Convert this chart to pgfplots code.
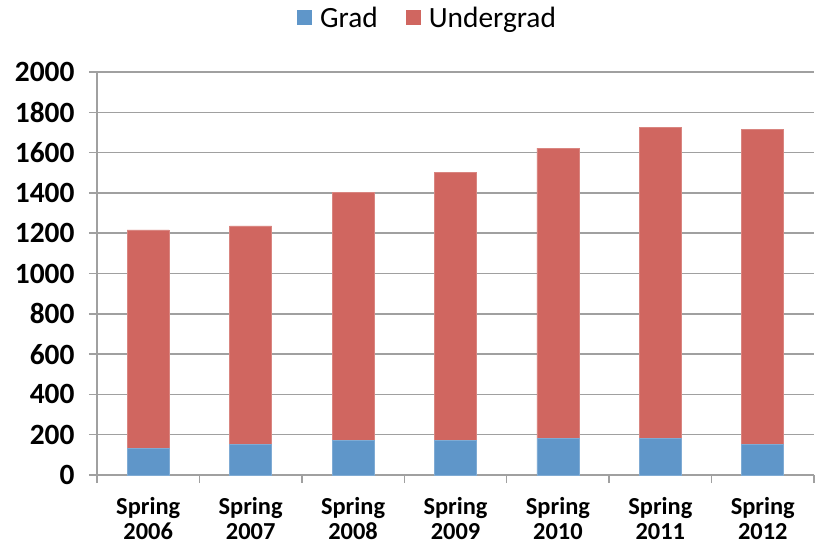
\documentclass[border=0pt]{standalone}
\usepackage{pgfplots}
\pgfplotsset{compat=1.18}
\usepackage{fontspec}
\setmainfont{Carlito}
\definecolor{gradblue}{RGB}{95,150,201}
\definecolor{ugred}{RGB}{208,102,96}
\definecolor{gridgray}{RGB}{160,160,160}
\begin{document}
\begin{tikzpicture}[x=1bp,y=1bp]
\begin{axis}[
  at={(0,0)}, anchor=south west,
  scale only axis,
  width=717bp, height=403bp,
  ybar stacked,
  bar width=42bp,
  xmin=-0.5, xmax=6.5,
  ymin=0, ymax=2000,
  ytick={0,200,...,2000},
  xtick={0,1,2,3,4,5,6},
  xticklabels={{Spring\\2006},{Spring\\2007},{Spring\\2008},{Spring\\2009},{Spring\\2010},{Spring\\2011},{Spring\\2012}},
  x tick label style={align=center, font=\bfseries\fontsize{24.5}{25}\selectfont, yshift=-11bp},
  y tick label style={font=\bfseries\fontsize{29.5}{30}\selectfont, xshift=-11bp},
  /pgf/number format/assume math mode=true,
  /pgf/number format/1000 sep={},
  major x tick style={draw=none},
  minor xtick={-0.5,0.5,...,6.5},
  minor x tick style={draw=gridgray, line width=1.5bp},
  minor tick length=8bp,
  major tick length=8bp,
  tick align=outside,
  y tick style={draw=gridgray, line width=1.5bp},
  ymajorgrids,
  grid style={draw=gridgray, line width=1.5bp},
  axis x line*=bottom,
  axis y line*=left,
  axis line style={draw=gridgray, line width=1.5bp},
  legend style={at={(rel axis cs:0.461,1.134)}, anchor=center, draw=none, fill=none,
    legend columns=2, font=\fontsize{29.5}{30}\selectfont,
    /tikz/every even column/.append style={column sep=26bp}},
  legend image code/.code={\fill[#1, draw=none] (0bp,-7.5bp) rectangle (15bp,7.5bp); \path[draw=none, fill=none] (15bp,0bp) -- (21bp,0bp);},
]
\addplot+[fill=gradblue, draw=gradblue!80!white, line width=0.8bp] coordinates {(0,130) (1,150) (2,170) (3,170) (4,180) (5,180) (6,150)};
\addlegendentry{Grad}
\addplot+[fill=ugred, draw=ugred!80!white, line width=0.8bp] coordinates {(0,1086) (1,1086) (2,1230) (3,1330) (4,1442) (5,1547) (6,1567)};
\addlegendentry{Undergrad}
\end{axis}
\pgfresetboundingbox
\path[use as bounding box] (-97bp,-78bp) rectangle (727bp,475bp);
\end{tikzpicture}
\end{document}
